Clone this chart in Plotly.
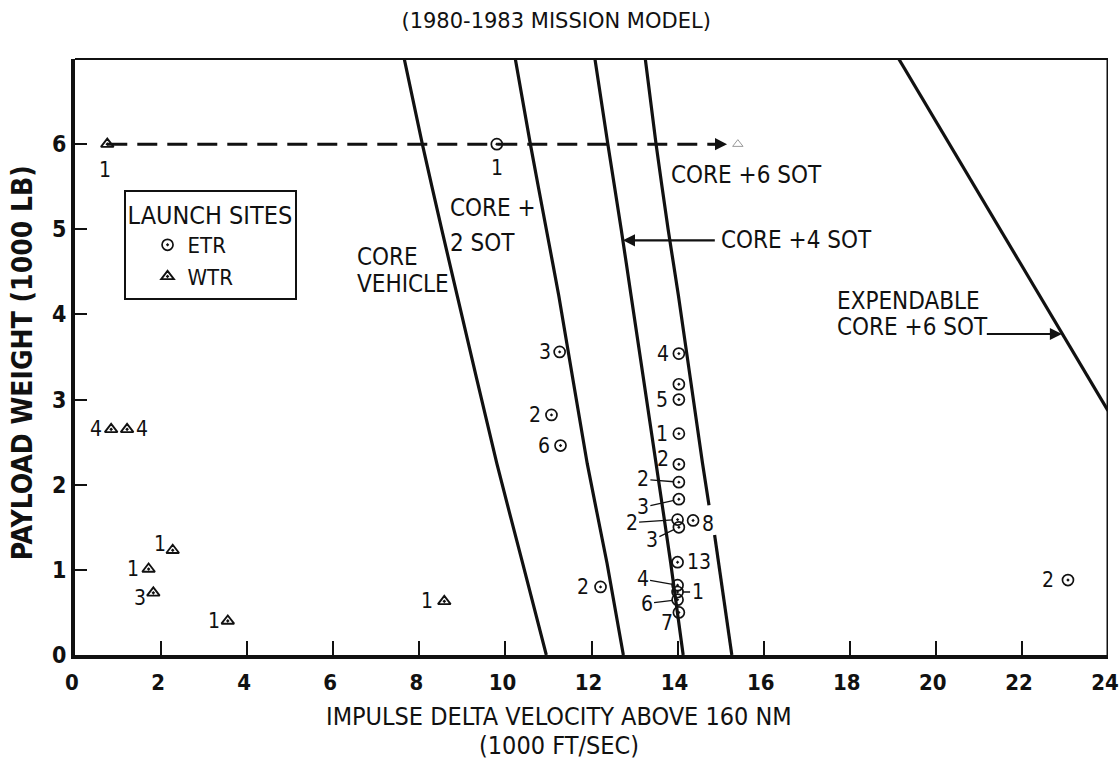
import plotly.graph_objects as go

# ---------------- data (x: 1000 ft/s, y: 1000 lb) ----------------
core_x = [7.65, 8.07, 8.52, 8.88, 9.80, 10.40, 10.95]
core_y = [7.00, 6.00, 5.00, 4.22, 2.25, 1.08, 0.00]
sot2_x = [10.23, 10.58, 10.95, 11.24, 11.90, 12.36, 12.74]
sot2_y = [7.00, 6.00, 5.00, 4.22, 2.25, 1.08, 0.00]
sot4_x = [12.08, 12.38, 12.69, 12.92, 13.50, 13.84, 14.13]
sot4_y = [7.00, 6.00, 5.00, 4.22, 2.25, 1.08, 0.00]
sot6_x = [13.25, 13.50, 13.78, 14.02, 14.58, 14.73, None, 14.86, 15.26]
sot6_y = [7.00, 6.00, 5.00, 4.22, 2.25, 1.76, None, 1.41, 0.00]
exp_x = [19.14, 24.00]
exp_y = [7.00, 2.87]

etr_x = [9.80, 11.26, 11.07, 11.28, 12.21, 14.03, 14.03, 14.03, 14.03, 14.03, 14.03,
         14.03, 14.00, 14.36, 14.03, 14.00, 14.00, 14.00, 14.00, 14.03, 23.07]
etr_y = [6.00, 3.56, 2.82, 2.46, 0.80, 3.54, 3.18, 3.00, 2.60, 2.24, 2.03,
         1.83, 1.59, 1.58, 1.50, 1.09, 0.82, 0.74, 0.65, 0.50, 0.88]
etr_lbl = ["1", "3", "2", "6", "2", "4", "", "5", "1", "2", "2",
           "3", "2", "8", "3", "13", "4", "1", "6", "7", "2"]

wtr_x = [0.75, 0.84, 1.21, 2.27, 1.71, 1.82, 3.55, 8.58]
wtr_y = [6.00, 2.65, 2.65, 1.23, 1.01, 0.73, 0.40, 0.63]
wtr_lbl = ["1", "4", "4", "1", "1", "3", "1", "1"]

shift_x = [0.75, 15.40]
shift_y = [6.00, 6.00]

x_ticks = [0, 2, 4, 6, 8, 10, 12, 14, 16, 18, 20, 22, 24]
y_ticks = [0, 1, 2, 3, 4, 5, 6]

# ---------------- styling ----------------
FONT = "DejaVu Sans Condensed, Liberation Sans Narrow, DejaVu Sans, sans-serif"
BLACK = "#111111"
# label offsets in px: (dx, dy, leader)
etr_off = [(0, 24, 0), (-15, 0, 0), (-16, 0, 0), (-17, 0, 0), (-18, 0, 0), (-16, 0, 0),
           (0, 0, 0), (-17, 0, 0), (-17, 0, 0), (-16, -5, 0), (-36, -3, 1), (-36, 8, 1),
           (-46, 3, 1), (15, 4, 0), (-27, 13, 1), (21, 0, 0), (-35, -6, 1), (20, 0, 1),
           (-31, 4, 1), (-12, 11, 0), (-20, 0, 0)]
wtr_off = [(-2, 26), (-15, 0), (15, 0), (-13, -6), (-16, 0), (-13, 5), (-14, 0), (-17, 0)]

fig = go.Figure()

for cx, cy in [(core_x, core_y), (sot2_x, sot2_y), (sot4_x, sot4_y),
               (sot6_x, sot6_y), (exp_x, exp_y)]:
    fig.add_trace(go.Scatter(x=cx, y=cy, mode="lines", showlegend=False,
                             line=dict(color=BLACK, width=3.2, shape="spline", smoothing=0.5),
                             hoverinfo="skip"))

# dashed shift line
fig.add_trace(go.Scatter(x=[shift_x[0], shift_x[1] - 0.45], y=shift_y, mode="lines",
                         showlegend=False, hoverinfo="skip",
                         line=dict(color=BLACK, width=3, dash="20px,10px")))
fig.add_trace(go.Scatter(x=[shift_x[1]], y=[shift_y[1]], mode="markers", showlegend=False,
                         marker=dict(symbol="triangle-up-open", size=9,
                                     color="#9a9a9a", line=dict(width=1, color="#9a9a9a"))))

fig.add_trace(go.Scatter(x=etr_x, y=etr_y, mode="markers", name="ETR",
                         marker=dict(symbol="circle-open-dot", size=11, color=BLACK,
                                     line=dict(width=1.7, color=BLACK))))
fig.add_trace(go.Scatter(x=wtr_x, y=wtr_y, mode="markers", name="WTR",
                         marker=dict(symbol="triangle-up-open-dot", size=11, color=BLACK,
                                     line=dict(width=1.9, color=BLACK))))

ann = []
lblfont = dict(family=FONT, size=21, color=BLACK)
for x, y, t, (dx, dy, lead) in zip(etr_x, etr_y, etr_lbl, etr_off):
    if not t:
        continue
    if lead:
        ann.append(dict(x=x, y=y, text=t, showarrow=True, arrowhead=0, arrowwidth=1.3,
                        arrowcolor=BLACK, ax=dx, ay=dy, standoff=5, font=lblfont))
    else:
        ann.append(dict(x=x, y=y, text=t, showarrow=False, xshift=dx, yshift=-dy,
                        font=lblfont))
for x, y, t, (dx, dy) in zip(wtr_x, wtr_y, wtr_lbl, wtr_off):
    ann.append(dict(x=x, y=y, text=t, showarrow=False, xshift=dx, yshift=-dy, font=lblfont))

txtfont = dict(family=FONT, size=24, color=BLACK)
for t, x, y in [("CORE +", 8.66, 5.25), ("2 SOT", 8.66, 4.84), ("CORE", 6.50, 4.68),
                ("VEHICLE", 6.50, 4.36), ("CORE +6 SOT", 13.80, 5.64),
                ("CORE +4 SOT", 14.97, 4.87), ("EXPENDABLE", 17.65, 4.16),
                ("CORE +6 SOT", 17.65, 3.85)]:
    ann.append(dict(x=x, y=y, text=t, showarrow=False, xanchor="left", yanchor="middle",
                    font=txtfont))

# arrows
for (x0, y0, x1, y1) in [(14.90, 4.87, 12.73, 4.87), (21.15, 3.77, 22.93, 3.77),
                         (14.70, 6.0, shift_x[1] - 0.25, 6.0)]:
    ann.append(dict(x=x1, y=y1, ax=x0, ay=y0, axref="x", ayref="y", text="",
                    showarrow=True, arrowhead=2, arrowsize=1.1, arrowwidth=2.2,
                    arrowcolor=BLACK, standoff=0))

# axis titles
axfont = dict(family=FONT, size=25, color=BLACK)
ann.append(dict(xref="paper", yref="paper", x=0.469, y=0, yshift=-61, yanchor="middle",
                text="IMPULSE DELTA VELOCITY ABOVE 160 NM", showarrow=False, font=axfont))
ann.append(dict(xref="paper", yref="paper", x=0.469, y=0, yshift=-90, yanchor="middle",
                text="(1000 FT/SEC)", showarrow=False, font=axfont))
ann.append(dict(xref="paper", yref="paper", x=-0.050, xanchor="center", y=0.49,
                yanchor="middle", textangle=-90,
                text="PAYLOAD WEIGHT (1000 LB)", showarrow=False,
                font=dict(family=FONT, size=28, color=BLACK, weight="bold")))

fig.update_layout(
    width=1119, height=777,
    margin=dict(l=75, r=11, t=59, b=122, autoexpand=False),
    paper_bgcolor="white", plot_bgcolor="white",
    title=dict(text="(1980-1983 MISSION MODEL)", x=0.497, xanchor="center",
               y=1 - 21 / 777, yanchor="middle",
               font=dict(family="DejaVu Sans, sans-serif", size=21, color=BLACK)),
    annotations=ann,
    shapes=[
        dict(type="line", xref="paper", yref="paper", x0=0, x1=1, y0=1, y1=1,
             line=dict(color=BLACK, width=2), layer="above"),
        dict(type="line", xref="x", yref="paper", x0=24, x1=24, y0=0, y1=1,
             line=dict(color=BLACK, width=3), layer="above"),
    ],
    showlegend=True,
    legend=dict(x=0.047, y=0.781, xanchor="left", yanchor="top",
                bordercolor=BLACK, borderwidth=2, bgcolor="white",
                font=dict(family=FONT, size=22, color=BLACK),
                title=dict(text="LAUNCH SITES", side="top",
                           font=dict(family=FONT, size=25, color=BLACK)),
                indentation=22, tracegroupgap=0),
    xaxis=dict(range=[0, 24], tickvals=x_ticks, ticks="inside", ticklen=14, tickwidth=2,
               tickcolor=BLACK, showline=True, linecolor=BLACK, linewidth=4, mirror=False,
               showgrid=False, zeroline=False, automargin=False,
               ticklabeloverflow="allow", ticklabelshift=-3,
               tickfont=dict(family=FONT, size=22, color=BLACK, weight="bold"),
               ticklabelstandoff=5),
    yaxis=dict(range=[0, 7], tickvals=y_ticks, ticks="inside", ticklen=12, tickwidth=2,
               tickcolor=BLACK, showline=True, linecolor=BLACK, linewidth=4, mirror=False,
               showgrid=False, zeroline=False, automargin=False,
               tickfont=dict(family=FONT, size=23, color=BLACK, weight="bold")),
)

fig.write_html("out.html", config={"displayModeBar": False},
               post_script="document.body.style.margin='0';")
